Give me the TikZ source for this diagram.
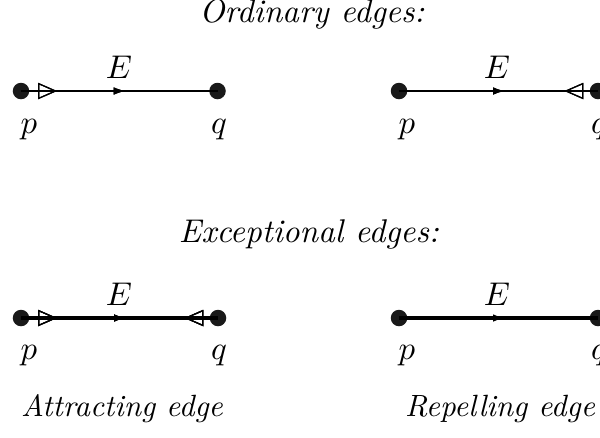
\documentclass[tikz,border=0pt]{standalone}
\usetikzlibrary{arrows.meta,decorations.markings}
\tikzset{
  dot/.style={circle,fill=black!90,minimum size=5.5pt,inner sep=0pt},
  lbl/.style={anchor=base,inner sep=0pt},
  ttl/.style={anchor=base,inner sep=0pt,font=\fontsize{10.95}{13}\selectfont\itshape},
  captext/.style={anchor=base,inner sep=0pt,font=\fontsize{10.25}{12}\selectfont\itshape},
  ordedge/.style={line width=0.65pt},
  excedge/.style={line width=1.15pt},
  midarrow/.style={postaction={decorate},decoration={markings,
    mark=at position 0.53 with {\arrow[line width=0.4pt]{Latex[length=3.8pt,width=2.5pt]}}}},
  attrp/.style={postaction={decorate},decoration={markings,
    mark=at position 12pt with {\arrow[line width=0.4pt]{Triangle[open,length=6.3pt,width=5.4pt]}}}},
  attrq/.style={postaction={decorate},decoration={markings,
    mark=at position -11.2pt with {\arrowreversed[line width=0.4pt]{Triangle[open,length=6.3pt,width=5.4pt]}}}},
}
\begin{document}
\begin{tikzpicture}[x=0.3333pt,y=-0.3333pt,font=\fontsize{10.95}{13}\selectfont]
\useasboundingbox (0,0) rectangle (600,437);
% titles
\node[ttl] (t1) at (312,22.5) {Ordinary edges:};
\node[ttl] (t2) at (309,242) {Exceptional edges:};
\node[captext] (c1) at (122,416) {Attracting edge};
\node[captext] (c2) at (500,416) {Repelling edge};
% top left
\node[dot] (p1) at (21,91) {};
\node[dot] (q1) at (217.5,91) {};
\draw[ordedge,midarrow,attrp] (p1.center) -- (q1.center);
\node[lbl] (E1) at (119,78) {$E$};
\node[lbl] (lp1) at (29,133) {$p$};
\node[lbl] (lq1) at (219,133) {$q$};
% top right
\node[dot] (p2) at (399,91) {};
\node[dot] (q2) at (598,91) {};
\draw[ordedge,midarrow,attrq] (p2.center) -- (q2.center);
\node[lbl] (E2) at (497,78) {$E$};
\node[lbl] (lp2) at (407,133) {$p$};
\node[lbl] (lq2) at (599,133) {$q$};
% bottom left
\node[dot] (p3) at (21,318) {};
\node[dot] (q3) at (218,318) {};
\draw[excedge,midarrow,attrp,attrq] (p3.center) -- (q3.center);
\node[lbl] (E3) at (119,305) {$E$};
\node[lbl] (lp3) at (29,359) {$p$};
\node[lbl] (lq3) at (219,359) {$q$};
% bottom right
\node[dot] (p4) at (399,318) {};
\node[dot] (q4) at (598,318) {};
\draw[excedge,midarrow] (p4.center) -- (q4.center);
\node[lbl] (E4) at (497,305) {$E$};
\node[lbl] (lp4) at (407,359) {$p$};
\node[lbl] (lq4) at (599,359) {$q$};
\end{tikzpicture}
\end{document}
